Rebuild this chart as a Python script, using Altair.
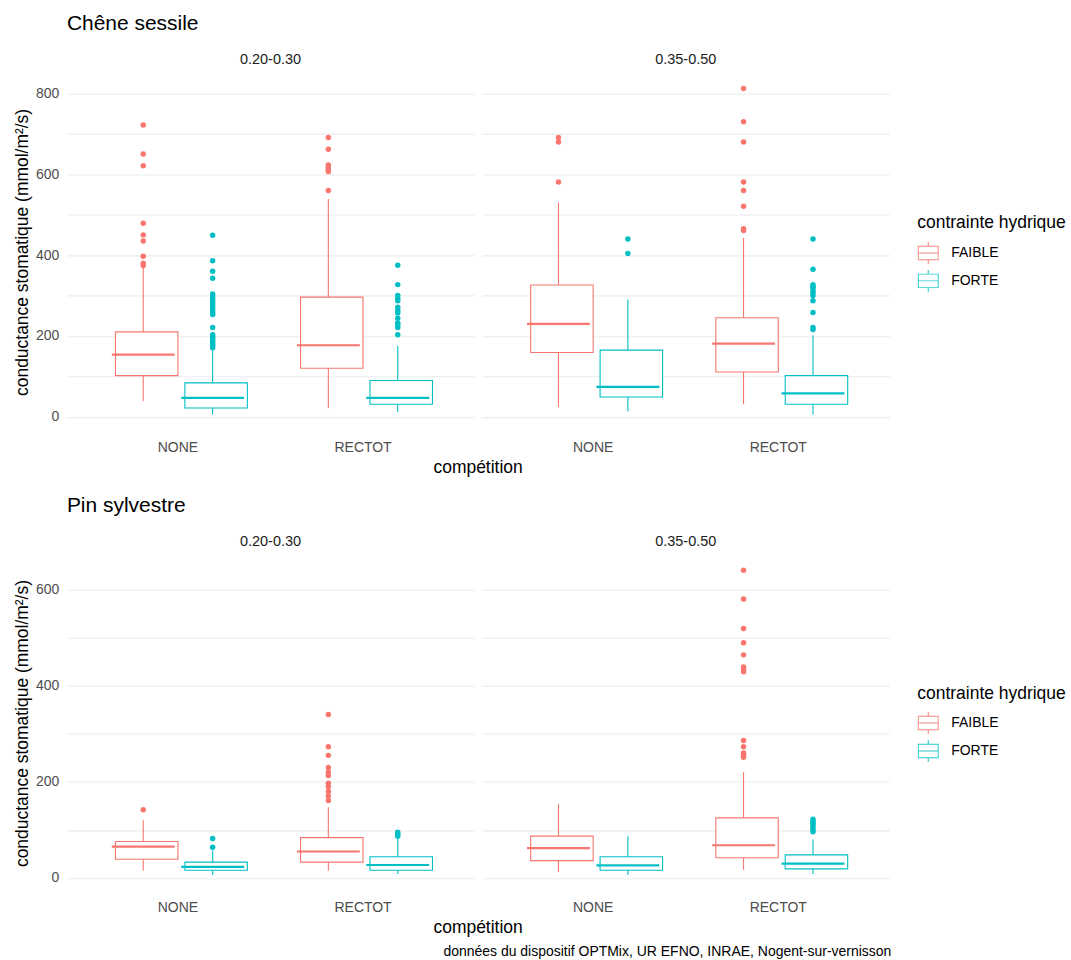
import altair as alt
import pandas as pd

FONT = "Liberation Sans"

GAMMES = ["0.20-0.30", "0.35-0.50"]
COMPETITIONS = ["NONE", "RECTOT"]
CONTRAINTES = ["FAIBLE", "FORTE"]
COULEURS = ["#F8766D", "#00BFC4"]

# group order: gamme, then competition, then contrainte hydrique
GROUPES = [(g, c, h) for g in GAMMES for c in COMPETITIONS for h in CONTRAINTES]

# Chêne sessile: whisker ends, quartiles, medians, outliers
CHENE_BAS = [39, 6, 21, 12, 24, 14, 31, 6]
CHENE_Q1 = [102, 22, 120, 31, 159, 49, 111, 31]
CHENE_MED = [154, 47, 177, 47, 230, 74, 181, 58]
CHENE_Q3 = [210, 84, 296, 90, 326, 165, 245, 102]
CHENE_HAUT = [368, 166, 539, 175, 530, 291, 442, 202]
CHENE_OUT = [
    [722, 650, 621, 479, 450, 435, 397, 380, 374],
    [449, 386, 360, 343, 304, 299, 294, 289, 284, 279, 274, 268, 262, 257, 253,
     221, 203, 199, 195, 191, 187, 183, 179, 175, 171],
    [691, 662, 623, 617, 612, 607, 560],
    [375, 327, 300, 293, 287, 271, 263, 257, 244, 232, 228, 221, 203],
    [691, 680, 581],
    [440, 404],
    [812, 730, 680, 581, 560, 521, 465, 461],
    [440, 365, 327, 322, 319, 312, 306, 300, 287, 258, 221, 216],
]

# Pin sylvestre
PIN_BAS = [15, 6, 15, 8, 12, 6, 17, 8]
PIN_Q1 = [39, 16, 33, 16, 36, 16, 42, 19]
PIN_MED = [65, 23, 55, 27, 62, 26, 68, 30]
PIN_Q3 = [76, 33, 84, 44, 87, 44, 125, 48]
PIN_HAUT = [120, 57, 147, 83, 154, 87, 220, 80]
PIN_OUT = [
    [142],
    [82, 64],
    [340, 273, 255, 230, 220, 213, 197, 190, 180, 171, 161],
    [95, 91, 87],
    [],
    [],
    [640, 580, 519, 489, 464, 439, 434, 429, 286, 273, 260, 255, 251],
    [122, 118, 114, 110, 105, 100, 96],
]

Y_TITRE = "conductance stomatique (mmol/m²/s)"
X_TITRE = "compétition"
SOURCE = "données du dispositif OPTMix, UR EFNO, INRAE, Nogent-sur-vernisson"

# outlined box glyph for the legend: outer frame with two inner holes, plus whiskers
GLYPHE = (
    "M-0.95,-0.66H0.95V0.66H-0.95Z"
    "M-0.86,-0.57V-0.045H0.86V-0.57Z"
    "M-0.86,0.045V0.57H0.86V0.045Z"
    "M-0.05,-1H0.05V-0.66H-0.05Z"
    "M-0.05,0.66H0.05V1H-0.05Z"
)


def table(bas, q1, med, q3, haut, aberrants):
    rows = []
    for i, (g, c, h) in enumerate(GROUPES):
        rows.append(dict(kind="boite", gamme=g, competition=c, contrainte=h,
                         bas=bas[i], q1=q1[i], med=med[i], q3=q3[i], haut=haut[i]))
        for v in aberrants[i]:
            rows.append(dict(kind="point", gamme=g, competition=c, contrainte=h, valeur=v))
    return pd.DataFrame(rows)


def panneau(df, titre, domaine, hauteur, ymax_tick, legend_y):
    x = alt.X(
        "competition:N", title=None,
        scale=alt.Scale(domain=COMPETITIONS, paddingInner=0.25, paddingOuter=0.225),
        axis=alt.Axis(labelAngle=0, ticks=False, domain=False, bandPosition=0.5,
                      labelPadding=9),
    )
    xo = alt.XOffset("contrainte:N",
                     scale=alt.Scale(domain=CONTRAINTES, paddingInner=0, paddingOuter=0))
    couleurs = alt.Scale(domain=CONTRAINTES, range=COULEURS)
    yscale = alt.Scale(domain=domaine, nice=False, zero=False)
    yaxis = alt.Axis(values=list(range(0, ymax_tick + 1, 100)),
                     labelExpr="datum.value % 200 == 0 ? datum.label : ''",
                     ticks=False, domain=False, labelPadding=8, titlePadding=4)

    base = alt.Chart(df)
    boites = base.transform_filter("datum.kind == 'boite'")

    moustache = boites.mark_rule(strokeWidth=1.1).encode(
        x=x, xOffset=xo,
        y=alt.Y("bas:Q", scale=yscale, axis=yaxis, title=Y_TITRE),
        y2="haut:Q",
        color=alt.Color(
            "contrainte:N", scale=couleurs, title="contrainte hydrique",
            legend=alt.Legend(orient="none", legendX=852, legendY=legend_y,
                              symbolType=GLYPHE, symbolSize=484, symbolStrokeWidth=0,
                              symbolOpacity=0.85,
                              rowPadding=6, titlePadding=10, labelOffset=12),
        ),
    )
    boite = boites.mark_bar(width={"band": 0.9}, fill="white", strokeWidth=1.1).encode(
        x=x, xOffset=xo,
        y=alt.Y("q1:Q", scale=yscale, axis=yaxis, title=Y_TITRE),
        y2="q3:Q",
        stroke=alt.Stroke("contrainte:N", scale=couleurs, legend=None),
    )
    mediane = boites.mark_tick(size=63, thickness=2.2, opacity=1).encode(
        x=x, xOffset=xo,
        y=alt.Y("med:Q", scale=yscale, axis=yaxis, title=Y_TITRE),
        color=alt.Color("contrainte:N", scale=couleurs, legend=None),
    )
    points = base.transform_filter("datum.kind == 'point'").mark_circle(
        size=30, opacity=1).encode(
        x=x, xOffset=xo,
        y=alt.Y("valeur:Q", scale=yscale, axis=yaxis, title=Y_TITRE),
        color=alt.Color("contrainte:N", scale=couleurs, legend=None),
    )

    couches = alt.layer(moustache, boite, mediane, points).properties(
        width=408, height=hauteur)
    return couches.facet(
        column=alt.Column("gamme:N", sort=GAMMES,
                          header=alt.Header(title=X_TITRE, titleOrient="bottom",
                                            titleFontSize=17.5, titleFont=FONT,
                                            titleColor="black", titleFontWeight="normal",
                                            titlePadding=-5,
                                            labelFontSize=14.5,
                                            labelColor="#1A1A1A", labelFont=FONT,
                                            labelPadding=5)),
        spacing=8,
    ).properties(
        title=alt.Title(titre, anchor="start", frame="group", fontSize=21,
                        fontWeight="normal", font=FONT, color="black", offset=18),
    )


chene = panneau(table(CHENE_BAS, CHENE_Q1, CHENE_MED, CHENE_Q3, CHENE_HAUT, CHENE_OUT),
                "Chêne sessile", [-35.3, 851], 359, 800, 142)
pin = panneau(table(PIN_BAS, PIN_Q1, PIN_MED, PIN_Q3, PIN_HAUT, PIN_OUT),
              "Pin sylvestre", [-27.6, 672], 337, 600, 130)

chart = alt.vconcat(chene, pin, spacing=18).resolve_scale(
    color="independent", stroke="independent"
).properties(
    title=alt.Title(SOURCE, orient="bottom", anchor="end", fontSize=14,
                    fontWeight="normal", font=FONT, color="black", offset=8, dx=-175),
    padding={"left": 13, "top": 12, "right": 5, "bottom": 5},
).configure_view(stroke=None).configure_axis(
    labelFont=FONT, titleFont=FONT, labelFontSize=14, titleFontSize=17.5,
    labelColor="#4D4D4D", titleColor="black", titleFontWeight="normal",
    gridColor="#EBEBEB", gridWidth=1.1,
).configure_legend(
    titleFont=FONT, labelFont=FONT, titleFontSize=17.5, labelFontSize=14,
    titleFontWeight="normal", titleColor="black", labelColor="black",
)

chart.save("out.html", embed_options={"renderer": "svg", "actions": False})
